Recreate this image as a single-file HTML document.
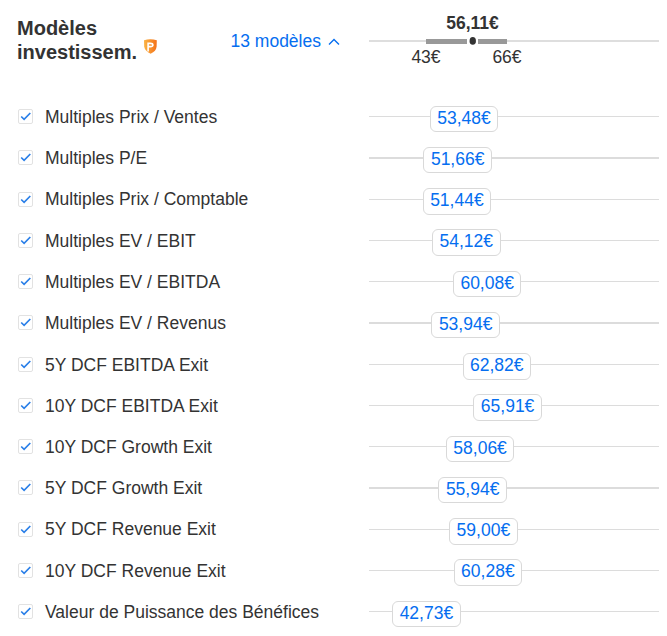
<!DOCTYPE html><html><head><meta charset="utf-8"><style>
html,body{margin:0;padding:0;background:#fff;width:667px;height:636px;overflow:hidden;position:relative;font-family:"Liberation Sans",sans-serif;}
.a{position:absolute;white-space:nowrap;}
.h{left:17px;top:16px;font-size:20px;font-weight:bold;line-height:24px;color:#333;}
.lnk{left:230.5px;top:31px;font-size:17.5px;color:#056ef0;line-height:20px;}
.tl{left:369px;width:290px;height:1.5px;background:#dcdcdc;}
.lbl{font-size:17.5px;color:#333;line-height:20px;left:45px;}
.cb{left:18px;width:15px;height:15px;box-sizing:border-box;border:1px solid #e2e2e2;border-radius:2px;background:#fff;}
.bd{box-sizing:border-box;border:1px solid #d9d9d9;border-radius:6px;background:#fff;width:68.5px;}
.bt{font-size:17.5px;color:#056ef0;text-align:center;line-height:22px;width:68.5px;}
</style></head><body>

<div class="a h">Modèles<br>investissem.</div>
<svg class="a" style="left:143px;top:38px" width="15" height="17" viewBox="0 0 15 17">
<defs><linearGradient id="g" x1="0" x2="1" y1="0" y2="0"><stop offset="0" stop-color="#fab445"/><stop offset="1" stop-color="#f47018"/></linearGradient></defs>
<path d="M1 2.3 Q7.2 0.2 13.8 2.3 L13.6 8.5 Q13.2 13.2 7.6 15.8 Q1.8 13 1.2 8.5 Z" fill="url(#g)"/>
<path d="M5.1 13.6 V5.35 H7.3 Q9.9 5.35 9.9 7 Q9.9 8.65 7.3 8.65 H5.1" fill="none" stroke="#fff" stroke-width="1.6"/>
</svg>
<div class="a lnk">13 modèles</div>
<svg class="a" style="left:328px;top:38px" width="12" height="8" viewBox="0 0 12 8"><path d="M1 6.5 L6 1.5 L11 6.5" fill="none" stroke="#056ef0" stroke-width="1.4"/></svg>
<div class="a" style="left:369px;top:40px;width:290px;height:2px;background:#dedede"></div>
<div class="a" style="left:426px;top:39px;width:41px;height:5px;background:#999"></div>
<div class="a" style="left:478px;top:39px;width:29px;height:5px;background:#999"></div>
<div class="a" style="left:467px;top:38px;width:11px;height:7px;background:#fff"></div>
<svg class="a" style="left:466px;top:35px" width="13" height="13" viewBox="0 0 13 13"><ellipse cx="6.75" cy="5.9" rx="3.2" ry="3.8" fill="#333"/></svg>
<div class="a" style="left:422.5px;top:11px;width:100px;text-align:center;font-size:17.5px;font-weight:bold;color:#333;line-height:24px">56,11€</div>
<div class="a" style="left:376px;top:45px;width:100px;text-align:center;font-size:17.5px;color:#333;line-height:24px">43€</div>
<div class="a" style="left:457px;top:45px;width:100px;text-align:center;font-size:17.5px;color:#333;line-height:24px">66€</div>
<div class="a cb" style="top:109.20px"><svg width="13" height="13" style="position:absolute;left:0;top:0" viewBox="0 0 13 13"><path d="M2.2 6.5 L5.1 9.3 L11.3 3.0" fill="none" stroke="#2a7fe8" stroke-width="1.7"/></svg></div>
<div class="a lbl" style="top:107.40px">Multiples Prix / Ventes</div>
<div class="a tl" style="top:116px;height:1px"></div>
<div class="a bd" style="top:106px;height:26px;left:429.81px"></div>
<div class="a bt" style="top:107px;left:429.81px">53,48€</div>
<div class="a cb" style="top:150.45px"><svg width="13" height="13" style="position:absolute;left:0;top:0" viewBox="0 0 13 13"><path d="M2.2 6.5 L5.1 9.3 L11.3 3.0" fill="none" stroke="#2a7fe8" stroke-width="1.7"/></svg></div>
<div class="a lbl" style="top:148.40px">Multiples P/E</div>
<div class="a tl" style="top:157px;height:2px"></div>
<div class="a bd" style="top:147px;height:26px;left:423.43px"></div>
<div class="a bt" style="top:148px;left:423.43px">51,66€</div>
<div class="a cb" style="top:191.70px"><svg width="13" height="13" style="position:absolute;left:0;top:0" viewBox="0 0 13 13"><path d="M2.2 6.5 L5.1 9.3 L11.3 3.0" fill="none" stroke="#2a7fe8" stroke-width="1.7"/></svg></div>
<div class="a lbl" style="top:189.40px">Multiples Prix / Comptable</div>
<div class="a tl" style="top:199px;height:1px"></div>
<div class="a bd" style="top:188px;height:27px;left:422.66px"></div>
<div class="a bt" style="top:189px;left:422.66px">51,44€</div>
<div class="a cb" style="top:232.95px"><svg width="13" height="13" style="position:absolute;left:0;top:0" viewBox="0 0 13 13"><path d="M2.2 6.5 L5.1 9.3 L11.3 3.0" fill="none" stroke="#2a7fe8" stroke-width="1.7"/></svg></div>
<div class="a lbl" style="top:231.40px">Multiples EV / EBIT</div>
<div class="a tl" style="top:240px;height:1px"></div>
<div class="a bd" style="top:229px;height:27px;left:432.05px"></div>
<div class="a bt" style="top:230px;left:432.05px">54,12€</div>
<div class="a cb" style="top:274.20px"><svg width="13" height="13" style="position:absolute;left:0;top:0" viewBox="0 0 13 13"><path d="M2.2 6.5 L5.1 9.3 L11.3 3.0" fill="none" stroke="#2a7fe8" stroke-width="1.7"/></svg></div>
<div class="a lbl" style="top:272.40px">Multiples EV / EBITDA</div>
<div class="a tl" style="top:281px;height:1px"></div>
<div class="a bd" style="top:271px;height:26px;left:452.93px"></div>
<div class="a bt" style="top:272px;left:452.93px">60,08€</div>
<div class="a cb" style="top:315.45px"><svg width="13" height="13" style="position:absolute;left:0;top:0" viewBox="0 0 13 13"><path d="M2.2 6.5 L5.1 9.3 L11.3 3.0" fill="none" stroke="#2a7fe8" stroke-width="1.7"/></svg></div>
<div class="a lbl" style="top:313.40px">Multiples EV / Revenus</div>
<div class="a tl" style="top:322px;height:2px"></div>
<div class="a bd" style="top:312px;height:26px;left:431.42px"></div>
<div class="a bt" style="top:313px;left:431.42px">53,94€</div>
<div class="a cb" style="top:356.70px"><svg width="13" height="13" style="position:absolute;left:0;top:0" viewBox="0 0 13 13"><path d="M2.2 6.5 L5.1 9.3 L11.3 3.0" fill="none" stroke="#2a7fe8" stroke-width="1.7"/></svg></div>
<div class="a lbl" style="top:355.40px">5Y DCF EBITDA Exit</div>
<div class="a tl" style="top:364px;height:1px"></div>
<div class="a bd" style="top:353px;height:27px;left:462.53px"></div>
<div class="a bt" style="top:354px;left:462.53px">62,82€</div>
<div class="a cb" style="top:397.95px"><svg width="13" height="13" style="position:absolute;left:0;top:0" viewBox="0 0 13 13"><path d="M2.2 6.5 L5.1 9.3 L11.3 3.0" fill="none" stroke="#2a7fe8" stroke-width="1.7"/></svg></div>
<div class="a lbl" style="top:396.40px">10Y DCF EBITDA Exit</div>
<div class="a tl" style="top:405px;height:1px"></div>
<div class="a bd" style="top:394px;height:27px;left:473.35px"></div>
<div class="a bt" style="top:395px;left:473.35px">65,91€</div>
<div class="a cb" style="top:439.20px"><svg width="13" height="13" style="position:absolute;left:0;top:0" viewBox="0 0 13 13"><path d="M2.2 6.5 L5.1 9.3 L11.3 3.0" fill="none" stroke="#2a7fe8" stroke-width="1.7"/></svg></div>
<div class="a lbl" style="top:437.40px">10Y DCF Growth Exit</div>
<div class="a tl" style="top:446px;height:1px"></div>
<div class="a bd" style="top:436px;height:26px;left:445.85px"></div>
<div class="a bt" style="top:437px;left:445.85px">58,06€</div>
<div class="a cb" style="top:480.45px"><svg width="13" height="13" style="position:absolute;left:0;top:0" viewBox="0 0 13 13"><path d="M2.2 6.5 L5.1 9.3 L11.3 3.0" fill="none" stroke="#2a7fe8" stroke-width="1.7"/></svg></div>
<div class="a lbl" style="top:478.40px">5Y DCF Growth Exit</div>
<div class="a tl" style="top:487px;height:2px"></div>
<div class="a bd" style="top:477px;height:26px;left:438.42px"></div>
<div class="a bt" style="top:478px;left:438.42px">55,94€</div>
<div class="a cb" style="top:521.70px"><svg width="13" height="13" style="position:absolute;left:0;top:0" viewBox="0 0 13 13"><path d="M2.2 6.5 L5.1 9.3 L11.3 3.0" fill="none" stroke="#2a7fe8" stroke-width="1.7"/></svg></div>
<div class="a lbl" style="top:519.40px">5Y DCF Revenue Exit</div>
<div class="a tl" style="top:529px;height:1px"></div>
<div class="a bd" style="top:518px;height:27px;left:449.14px"></div>
<div class="a bt" style="top:519px;left:449.14px">59,00€</div>
<div class="a cb" style="top:562.95px"><svg width="13" height="13" style="position:absolute;left:0;top:0" viewBox="0 0 13 13"><path d="M2.2 6.5 L5.1 9.3 L11.3 3.0" fill="none" stroke="#2a7fe8" stroke-width="1.7"/></svg></div>
<div class="a lbl" style="top:561.40px">10Y DCF Revenue Exit</div>
<div class="a tl" style="top:570px;height:1px"></div>
<div class="a bd" style="top:559px;height:27px;left:453.63px"></div>
<div class="a bt" style="top:560px;left:453.63px">60,28€</div>
<div class="a cb" style="top:604.20px"><svg width="13" height="13" style="position:absolute;left:0;top:0" viewBox="0 0 13 13"><path d="M2.2 6.5 L5.1 9.3 L11.3 3.0" fill="none" stroke="#2a7fe8" stroke-width="1.7"/></svg></div>
<div class="a lbl" style="top:602.40px">Valeur de Puissance des Bénéfices</div>
<div class="a tl" style="top:611px;height:1px"></div>
<div class="a bd" style="top:601px;height:26px;left:392.15px"></div>
<div class="a bt" style="top:602px;left:392.15px">42,73€</div>
</body></html>
